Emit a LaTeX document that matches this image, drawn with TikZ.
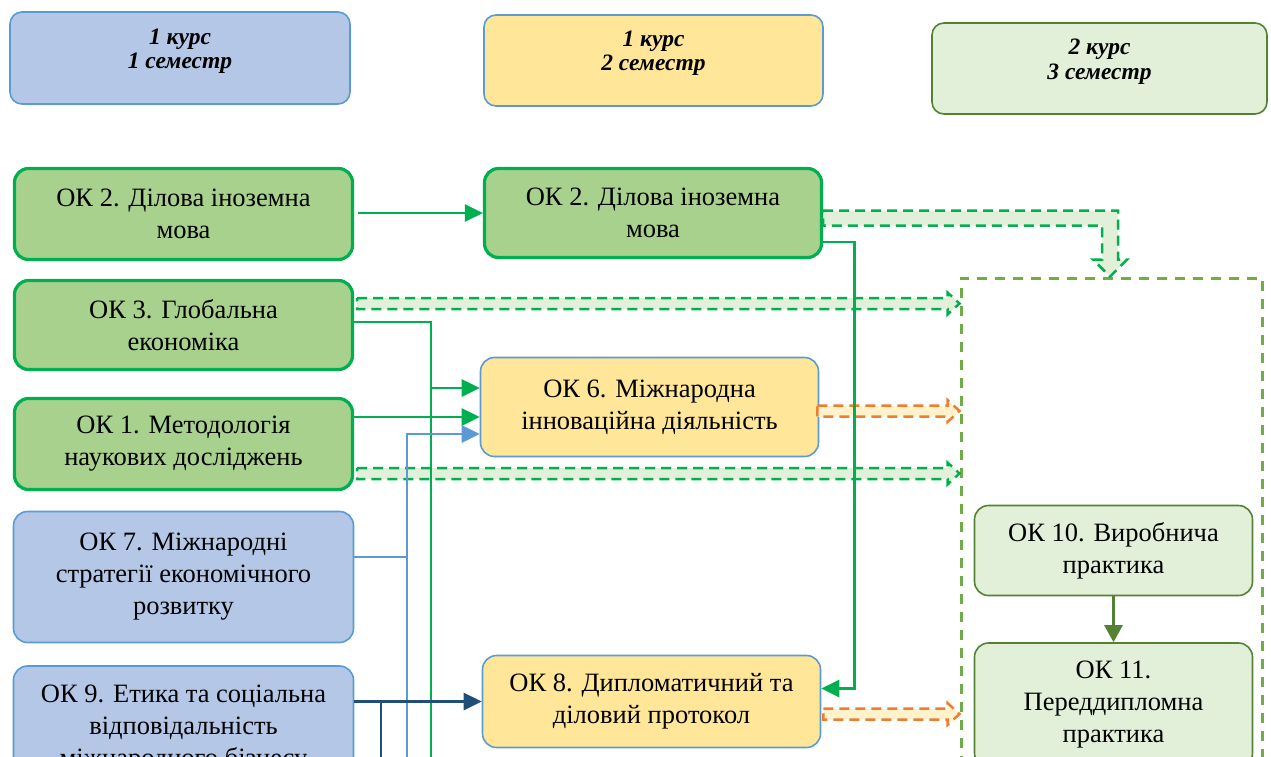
\documentclass[tikz,border=0pt]{standalone}
\usepackage{fontspec}
\setmainfont{Liberation Serif}
\usetikzlibrary{arrows.meta,calc}
\definecolor{bfill}{HTML}{B4C7E7}
\definecolor{bline}{HTML}{5B9BD5}
\definecolor{yfill}{HTML}{FFE699}
\definecolor{gfill}{HTML}{A9D18E}
\definecolor{gline}{HTML}{00B050}
\definecolor{lgfill}{HTML}{E2F0D9}
\definecolor{lgline}{HTML}{548235}
\definecolor{dgreen}{HTML}{70AD47}
\definecolor{dblue}{HTML}{1F4E79}
\definecolor{orng}{HTML}{ED7D31}
\definecolor{lorng}{HTML}{FFF2CC}
\newcommand{\mybody}{\fontsize{26.5}{32}\selectfont}
\newcommand{\myhead}{\fontsize{23.5}{24.5}\selectfont\bfseries\itshape}
\newcommand{\hband}[3]{%
  \path[#3] let \p1=#1, \p2=#2 in
    (\x1,\y1+5.5pt) -- (\x2-12pt,\y1+5.5pt) -- (\x2-12pt,\y1+11pt) -- (\x2,\y1)
    -- (\x2-12pt,\y1-11pt) -- (\x2-12pt,\y1-5.5pt) -- (\x1,\y1-5.5pt) -- cycle;}
\begin{document}
\begin{tikzpicture}[x=1pt,y=-1pt,
  base/.style={rounded corners=14pt, align=center, inner sep=0pt, font=\mybody},
  gbox/.style={base, draw=gline, line width=3.2pt, fill=gfill},
  bbox/.style={base, draw=bline, line width=1.6pt, fill=bfill},
  ybox/.style={base, draw=bline, line width=1.6pt, fill=yfill},
  lbox/.style={base, draw=lgline, line width=1.6pt, fill=lgfill},
  htext/.style={align=center, font=\myhead, inner sep=0pt},
  tip/.style={-{Triangle[length=18pt,width=17pt]}},
  gl/.style={draw=gline, line width=2.8pt},
  bl/.style={draw=bline, line width=2.8pt},
  dl/.style={draw=dblue, line width=2.8pt},
  gband/.style={draw=gline, fill=lgfill, line width=2.5pt, dash pattern=on 10pt off 6pt},
  oband/.style={draw=orng, fill=lorng, line width=2.5pt, dash pattern=on 10pt off 6pt},
  semframe/.style={draw=dgreen, line width=3pt, dash pattern=on 10pt off 8pt, inner sep=0pt}
]
\useasboundingbox (0,0) rectangle (1271,756);
\clip (0,0) rectangle (1271,756);

% headers
\node[bbox, rounded corners=12pt, minimum width=340pt, minimum height=92pt] (h1) at (180,58) {};
\node[htext] at ([yshift=7pt]h1.center) {1 курс\\1 семестр};
\node[ybox, rounded corners=12pt, minimum width=339pt, minimum height=91pt] (h2) at (653.5,60.5) {};
\node[htext] at ([yshift=7.5pt]h2.center) {1 курс\\2 семестр};
\node[lbox, rounded corners=12pt, minimum width=335pt, minimum height=91pt] (h3) at (1099.5,68.5) {};
\node[htext] at ([yshift=7pt]h3.center) {2 курс\\3 семестр};

% column 1
\node[gbox, minimum width=338pt, minimum height=91pt] (ok2a) at (183.5,214) {ОК 2. Ділова іноземна\\мова};
\node[gbox, minimum width=338pt, minimum height=89pt] (ok3) at (183.5,325) {ОК 3. Глобальна\\економіка};
\node[gbox, minimum width=338pt, minimum height=91pt] (ok1) at (183.5,444) {ОК 1. Методологія\\наукових досліджень};
\node[bbox, minimum width=340pt, minimum height=131pt] (ok7) at (183.5,577) {ОК 7. Міжнародні\\стратегії економічного\\розвитку};
\node[bbox, minimum width=340pt, minimum height=126pt] (ok9) at (183.5,729) {ОК 9. Етика та соціальна\\відповідальність\\міжнародного бізнесу};

% column 2
\node[gbox, minimum width=337pt, minimum height=89pt] (ok2b) at (653,213) {ОК 2. Ділова іноземна\\мова};
\node[ybox, minimum width=338pt, minimum height=99pt] (ok6) at (649.5,407) {ОК 6. Міжнародна\\інноваційна діяльність};
\node[ybox, minimum width=338pt, minimum height=92pt] (ok8) at (651.5,701.5) {ОК 8. Дипломатичний та\\діловий протокол};

% column 3
\node[semframe, minimum width=301pt, minimum height=522pt] (sem3) at (1111.5,539) {};
\node[lbox, minimum width=278pt, minimum height=90pt] (ok10) at (1113.5,550.5) {ОК 10. Виробнича\\практика};
\node[lbox, minimum width=278pt, minimum height=124pt] (ok11) at (1113.5,705) {ОК 11.\\Переддипломна\\практика};

% wide dashed arrows
\hband{([xshift=3pt,yshift=21.5pt]ok3.east)}{(sem3.west)}{gband}
\hband{([xshift=3pt,yshift=-29.5pt]ok1.east)}{(sem3.west)}{gband}
\hband{([xshift=-2pt,yshift=-4pt]ok6.east)}{(sem3.west)}{oband}
\hband{([xshift=2pt,yshift=-12.5pt]ok8.east)}{(sem3.west)}{oband}
\path[gband] let \p1=(ok2b.east), \p2=(sem3.north) in
  (\x1,\y1+2.5pt) -- (\x2+6.5pt,\y1+2.5pt) -- (\x2+6.5pt,\y2+17pt) -- (\x2+15.5pt,\y2+17pt)
  -- (\x2-1.5pt,\y2) -- (\x2-18.5pt,\y2+17pt) -- (\x2-9.5pt,\y2+17pt) -- (\x2-9.5pt,\y1-12.5pt)
  -- (\x1,\y1-12.5pt) -- cycle;

% connectors
\coordinate (g3end) at (431,770);
\coordinate (b7end) at (407,770);
\coordinate (d9end) at (381,770);
\coordinate (ok6a) at ([yshift=19pt]ok6.west);
\coordinate (ok6b) at ([yshift=-10pt]ok6.west);
\coordinate (ok6c) at ([yshift=-27pt]ok6.west);
\coordinate (ok7a) at ([yshift=20pt]ok7.east);

\draw[gl, tip, shorten <=4pt] (ok2a.east |- ok2b.west) -- (ok2b.west);
\draw[gl, tip] ([yshift=-29pt]ok2b.east) -- ++(31,0) |- ([yshift=13pt]ok8.east);
\draw[gl] ([yshift=3pt]ok3.east) -| (g3end);
\draw[gl, tip] (g3end |- ok6a) -- (ok6a);
\draw[gl, tip] (ok1.east |- ok6b) -- (ok6b);
\draw[bl, tip] (b7end) |- (ok6c);
\draw[bl] (ok7a) -- (ok7a -| b7end);
\draw[dl, tip] (ok9.east |- ok8.west) -- (ok8.west);
\draw[dl] (d9end |- ok8.west) -- (d9end);
\draw[draw=lgline, line width=2.8pt, -{Triangle[length=17pt,width=18pt]}] (ok10.south) -- (ok11.north);
\end{tikzpicture}
\end{document}
